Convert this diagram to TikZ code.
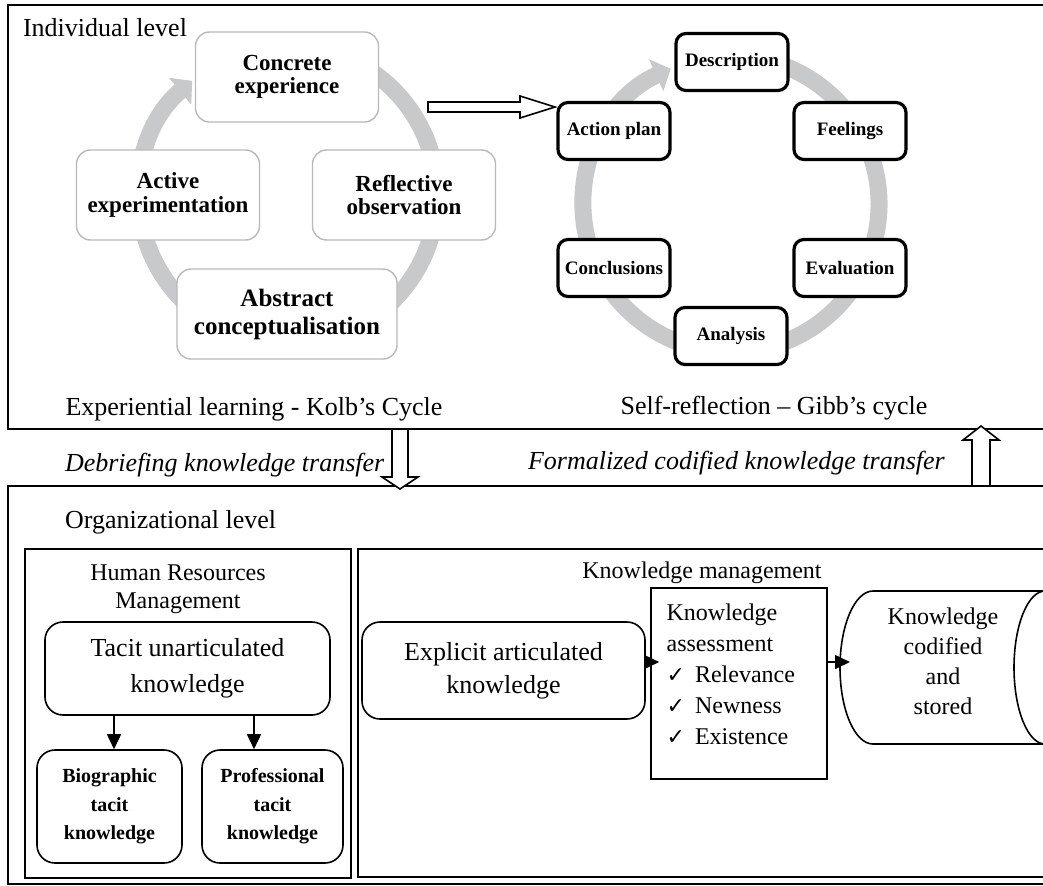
\documentclass[tikz,border=0pt]{standalone}
\usepackage{fontspec}
\setmainfont{Liberation Serif}
\newfontfamily\checkfont{DejaVu Sans}
\usetikzlibrary{calc,positioning,arrows.meta}
\definecolor{ringgray}{RGB}{200,201,203}
\definecolor{kolbline}{RGB}{185,185,185}

\begin{document}
\begin{tikzpicture}[x=0.5pt, y=-0.5pt,
  kolb/.style={draw=kolbline, line width=0.7pt, fill=white, rounded corners=7pt, align=center, font=\fontsize{11.5}{11.8}\selectfont\bfseries, minimum width=91.5pt, minimum height=45pt, inner sep=0pt},
  gibb/.style={draw, line width=1.6pt, fill=white, rounded corners=5pt, font=\fontsize{9.5}{10}\selectfont\bfseries, minimum width=56pt, minimum height=28.5pt, inner sep=0pt},
  ring/.style={draw=ringgray, line width=8.5pt},
  frame/.style={draw, line width=1pt},
  box/.style={draw, line width=0.8pt},
  rbox/.style={draw, line width=0.8pt, rounded corners=9pt, align=center, inner sep=0pt},
  hdr/.style={font=\fontsize{13}{15.5}\selectfont},
  trans/.style={font=\fontsize{13}{15.5}\selectfont\itshape, anchor=west},
  sub/.style={font=\fontsize{12}{14}\selectfont, align=center},
  arr/.style={line width=0.8pt, -{Triangle[length=7.5pt,width=7pt]}},
  hollow/.style={draw, line width=0.8pt, fill=white}]

\useasboundingbox (0,0) rectangle (1043,885);

% individual level
\draw[frame] (1060,5) -- (8,5) -- (8,429) -- (1060,429);
\node[hdr, anchor=west] (ind) at (16,28) {Individual level};

\coordinate (kc) at (288,195);
\draw[ring, -{Triangle[length=8pt,width=17pt]}] (kc) ++(480:74.5pt) arc[start angle=480, end angle=130, radius=74.5pt];
\node[kolb] (ce) at (287,77) {Concrete\\experience};
\node[kolb] (ae) at (168,195) {Active\\experimentation};
\node[kolb] (ro) at (404,195) {Reflective\\observation};
\node[kolb, minimum width=110pt, font=\fontsize{12.5}{14}\selectfont\bfseries] (ac) at (287,314) {Abstract\\conceptualisation};
\node[hdr] (kcap) at (254,409) {Experiential learning - Kolb's Cycle};

\draw[hollow] (428,102) -- (520,102) -- (520,96) -- (555,107) -- (520,118) -- (520,112) -- (428,112) -- cycle;

\coordinate (gc) at (731,204);
\draw[ring, -{Triangle[length=8pt,width=17pt]}] (gc) ++(468:74pt) arc[start angle=468, end angle=114, radius=74pt];
\node[gibb] (desc) at (732,62) {Description};
\node[gibb] (feel) at (850,131) {Feelings};
\node[gibb] (eval) at (850,268) {Evaluation};
\node[gibb] (anal) at (731,336) {Analysis};
\node[gibb] (conc) at (614,268) {Conclusions};
\node[gibb] (plan) at (614,131) {Action plan};
\node[hdr] (gcap) at (774,408) {Self-reflection -- Gibb's cycle};

% transfer
\node[trans] (debr) at (58,465) {Debriefing knowledge transfer};
\node[trans] (form) at (521,463) {Formalized codified knowledge transfer};

% organizational level
\draw[frame] (1060,486) -- (8,486) -- (8,884) -- (1060,884);
\draw[hollow] (392,429) -- (392,477) -- (382,477) -- (400,489) -- (418,477) -- (408,477) -- (408,429) -- cycle;
\draw[hollow] (972,486) -- (972,440) -- (963,440) -- (981,426) -- (999,440) -- (990,440) -- (990,486) -- cycle;
\node[hdr, anchor=west] (org) at (58,522) {Organizational level};

\draw[box] (25,549) rectangle (351,878);
\node[sub] (hrm) at (178,589) {Human Resources\\Management};
\node[rbox, minimum width=142.5pt, minimum height=46.5pt, font=\fontsize{13}{18}\selectfont] (tacit) at (187.5,668.5) {Tacit unarticulated\\knowledge};
\node[rbox, minimum width=72.5pt, minimum height=56.5pt, font=\fontsize{10}{14.2}\selectfont\bfseries] (bio) at (109.5,806.5) {Biographic\\tacit\\knowledge};
\node[rbox, minimum width=70.5pt, minimum height=56.5pt, font=\fontsize{10}{14.2}\selectfont\bfseries] (prof) at (272.5,806.5) {Professional\\tacit\\knowledge};
\coordinate (t1) at ($(tacit.south)+(-73.5,0)$);
\coordinate (t2) at ($(tacit.south)+(66.5,0)$);
\draw[arr] (t1) -- (t1 |- bio.north);
\draw[arr] (t2) -- (t2 |- prof.north);

\draw[box] (1060,549) -- (358,549) -- (358,877) -- (1060,877);
\node[sub] (km) at (702,573) {Knowledge management};
\node[rbox, minimum width=141.5pt, minimum height=48.5pt, font=\fontsize{13}{16.5}\selectfont] (expl) at (503.5,670.5) {Explicit articulated\\knowledge};
\node[box, minimum width=88pt, minimum height=95.5pt, inner sep=0pt] (assess) at (739,683.5) {};
\node[anchor=north west, align=left, inner sep=0pt, font=\fontsize{12}{15.5}\selectfont] (crit) at ([xshift=8pt,yshift=-8pt]assess.north west)
  {Knowledge\\assessment\\{\checkfont\fontsize{11}{12}\selectfont ✓}\hspace{5pt}Relevance\\{\checkfont\fontsize{11}{12}\selectfont ✓}\hspace{5pt}Newness\\{\checkfont\fontsize{11}{12}\selectfont ✓}\hspace{5pt}Existence};

\draw[box] (1060,591) -- (873,591) arc[start angle=90, end angle=270, x radius=16.5pt, y radius=38.25pt] -- (1060,744);
\draw[box] (1045,591) arc[start angle=90, end angle=270, x radius=15.5pt, y radius=38.25pt];
\node[sub, font=\fontsize{12}{15}\selectfont] (stored) at (943,661) {Knowledge\\codified\\and\\stored};
\coordinate (lvl) at (0,662);
\coordinate (cylw) at (850,662);
\draw[arr, shorten >=-4.5pt] (expl.east |- lvl) -- (assess.west |- lvl);
\draw[arr] (assess.east |- lvl) -- (cylw);
\end{tikzpicture}
\end{document}
